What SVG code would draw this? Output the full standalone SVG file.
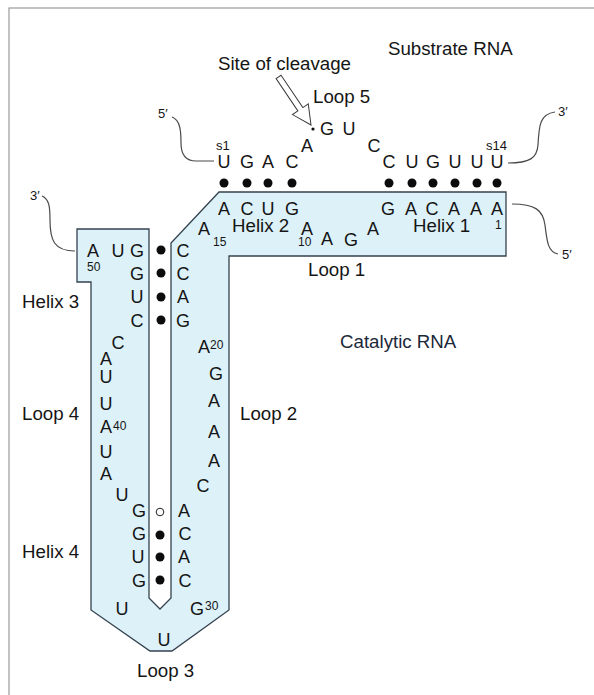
<svg xmlns="http://www.w3.org/2000/svg" width="594" height="695" viewBox="0 0 594 695">
  <style>
    .nt { font-family: "Liberation Sans", Arial, sans-serif; font-size: 18px; fill: #151515; text-anchor: middle; }
    .lbl { font-family: "Liberation Sans", Arial, sans-serif; font-size: 18.7px; fill: #151515; }
    .num { font-family: "Liberation Sans", Arial, sans-serif; font-size: 12px; fill: #151515; }
    .end { font-family: "Liberation Sans", Arial, sans-serif; font-size: 13px; fill: #151515; }
    .pair { fill: #0c0c0c; }
    .tail { fill: none; stroke: #4a4a4a; stroke-width: 1.2; }
  </style>

  <!-- page frame -->
  <rect x="9" y="8" width="600" height="700" fill="#ffffff" stroke="#9a9a9a" stroke-width="1.2"/>

  <!-- catalytic RNA backbone outline -->
  <g id="catalytic-body">
    <polygon points="77,229 149,229 149,598 160,609 171,598 171,243 219,192 506,192 506,256 229,256 229,610 172,651 150,651 91,610 91,282 77,282"
             fill="#dcf1f8" stroke="#34424f" stroke-width="1.3" stroke-linejoin="miter"/>
  </g>

  <!-- connectors: strand end tails and cleavage arrow -->
  <g id="connectors">
    <path class="tail" d="M172,117 C180,120 181,130 181,143 C181,155 186,161 196,161 L214,161"/>
    <path class="tail" d="M508,163 C530,163 537,158 538,145 C539,125 540,114 555,112"/>
    <path class="tail" d="M512,204 C535,204 543,210 545,225 C547,242 548,252 558,254"/>
    <path class="tail" d="M42,196 C49,199 50,206 50,220 C50,240 54,251 75,251"/>
    <polygon transform="translate(311,125) rotate(56)" points="-58,-3 -19,-3 -19,-9.5 0,0 -19,9.5 -19,3 -58,3"
             fill="#ffffff" stroke="#3a3a3a" stroke-width="1"/>
  </g>

  <!-- substrate strand -->
  <g id="substrate">
    <text class="end" x="158" y="118">5′</text>
    <text class="end" x="558" y="116">3′</text>
    <text class="end" x="216" y="150">s1</text>
    <text class="end" x="486" y="150">s14</text>
    <text class="nt" x="224" y="168">U</text>
    <text class="nt" x="247" y="168">G</text>
    <text class="nt" x="268" y="168">A</text>
    <text class="nt" x="292" y="168">C</text>
    <text class="nt" x="307" y="152">A</text>
    <circle cx="313" cy="129" r="1.6" class="pair"/>
    <text class="nt" x="327" y="135">G</text>
    <text class="nt" x="349" y="135">U</text>
    <text class="nt" x="374" y="152">C</text>
    <text class="nt" x="389" y="168">C</text>
    <text class="nt" x="412" y="168">U</text>
    <text class="nt" x="433" y="168">G</text>
    <text class="nt" x="455" y="168">U</text>
    <text class="nt" x="477" y="168">U</text>
    <text class="nt" x="497" y="168">U</text>
  </g>

  <!-- base pairs between substrate and catalytic strand -->
  <g id="pairs-helix1-2">
    <circle class="pair" cx="224" cy="183" r="4.5"/>
    <circle class="pair" cx="247" cy="183" r="4.5"/>
    <circle class="pair" cx="268" cy="183" r="4.5"/>
    <circle class="pair" cx="292" cy="183" r="4.5"/>
    <circle class="pair" cx="389" cy="183" r="4.5"/>
    <circle class="pair" cx="412" cy="183" r="4.5"/>
    <circle class="pair" cx="433" cy="183" r="4.5"/>
    <circle class="pair" cx="455" cy="183" r="4.5"/>
    <circle class="pair" cx="477" cy="183" r="4.5"/>
    <circle class="pair" cx="497" cy="183" r="4.5"/>
  </g>

  <!-- catalytic strand, helices 1 and 2, loop 1 -->
  <g id="helix1-helix2">
    <text class="nt" x="224" y="215">A</text>
    <text class="nt" x="247" y="215">C</text>
    <text class="nt" x="268" y="215">U</text>
    <text class="nt" x="292" y="215">G</text>
    <text class="nt" x="388" y="215">G</text>
    <text class="nt" x="411" y="215">A</text>
    <text class="nt" x="432" y="215">C</text>
    <text class="nt" x="454" y="215">A</text>
    <text class="nt" x="476" y="215">A</text>
    <text class="nt" x="497" y="215">A</text>
    <text class="num" x="495" y="229">1</text>
    <text class="nt" x="204" y="235">A</text>
    <text class="num" x="213" y="246">15</text>
    <text class="nt" x="307" y="235">A</text>
    <text class="num" x="298" y="246">10</text>
    <text class="nt" x="327" y="245">A</text>
    <text class="nt" x="351" y="246">G</text>
    <text class="nt" x="373" y="235">A</text>
    <text class="end" x="562" y="259">5′</text>
  </g>

  <!-- helix 3 -->
  <g id="helix3">
    <text class="end" x="30" y="200">3′</text>
    <text class="nt" x="93" y="257">A</text>
    <text class="num" x="87" y="271">50</text>
    <text class="nt" x="118" y="257">U</text>
    <text class="nt" x="137" y="257">G</text>
    <text class="nt" x="137" y="280">G</text>
    <text class="nt" x="137" y="303">U</text>
    <text class="nt" x="137" y="327">C</text>
    <circle class="pair" cx="161" cy="250" r="4.5"/>
    <circle class="pair" cx="161" cy="273" r="4.5"/>
    <circle class="pair" cx="161" cy="297" r="4.5"/>
    <circle class="pair" cx="161" cy="320" r="4.5"/>
    <text class="nt" x="183" y="257">C</text>
    <text class="nt" x="183" y="280">C</text>
    <text class="nt" x="183" y="303">A</text>
    <text class="nt" x="183" y="327">G</text>
  </g>

  <!-- loop 4 -->
  <g id="loop4">
    <text class="nt" x="118" y="349">C</text>
    <text class="nt" x="106" y="365">A</text>
    <text class="nt" x="106" y="383">U</text>
    <text class="nt" x="106" y="410">U</text>
    <text class="nt" x="106" y="433">A</text>
    <text class="num" x="113" y="430">40</text>
    <text class="nt" x="106" y="458">U</text>
    <text class="nt" x="106" y="480">A</text>
    <text class="nt" x="122" y="501">U</text>
  </g>

  <!-- loop 2 -->
  <g id="loop2">
    <text class="nt" x="204" y="353">A</text>
    <text class="num" x="210" y="349">20</text>
    <text class="nt" x="216" y="380">G</text>
    <text class="nt" x="214" y="407">A</text>
    <text class="nt" x="214" y="438">A</text>
    <text class="nt" x="214" y="467">A</text>
    <text class="nt" x="203" y="492">C</text>
  </g>

  <!-- helix 4 -->
  <g id="helix4">
    <text class="nt" x="139" y="517">G</text>
    <text class="nt" x="139" y="540">G</text>
    <text class="nt" x="138" y="563">U</text>
    <text class="nt" x="139" y="587">G</text>
    <circle cx="160" cy="512" r="3.8" fill="#ffffff" stroke="#222" stroke-width="1"/>
    <circle class="pair" cx="160" cy="535" r="4.5"/>
    <circle class="pair" cx="160" cy="557" r="4.5"/>
    <circle class="pair" cx="160" cy="580" r="4.5"/>
    <text class="nt" x="184" y="517">A</text>
    <text class="nt" x="185" y="540">C</text>
    <text class="nt" x="184" y="563">A</text>
    <text class="nt" x="185" y="587">C</text>
  </g>

  <!-- loop 3 -->
  <g id="loop3">
    <text class="nt" x="122" y="615">U</text>
    <text class="nt" x="197" y="615">G</text>
    <text class="num" x="205" y="610">30</text>
    <text class="nt" x="164" y="646">U</text>
  </g>

  <!-- captions -->
  <g id="labels">
    <text class="lbl" x="388" y="55">Substrate RNA</text>
    <text class="lbl" x="218" y="70">Site of cleavage</text>
    <text class="lbl" x="313" y="103">Loop 5</text>
    <text class="lbl" x="232" y="232">Helix 2</text>
    <text class="lbl" x="413" y="232">Helix 1</text>
    <text class="lbl" x="308" y="276">Loop 1</text>
    <text class="lbl" x="340" y="348" style="fill:#1c2838">Catalytic RNA</text>
    <text class="lbl" x="22" y="308">Helix 3</text>
    <text class="lbl" x="22" y="420">Loop 4</text>
    <text class="lbl" x="240" y="420">Loop 2</text>
    <text class="lbl" x="22" y="558">Helix 4</text>
    <text class="lbl" x="137" y="677">Loop 3</text>
  </g>
</svg>
